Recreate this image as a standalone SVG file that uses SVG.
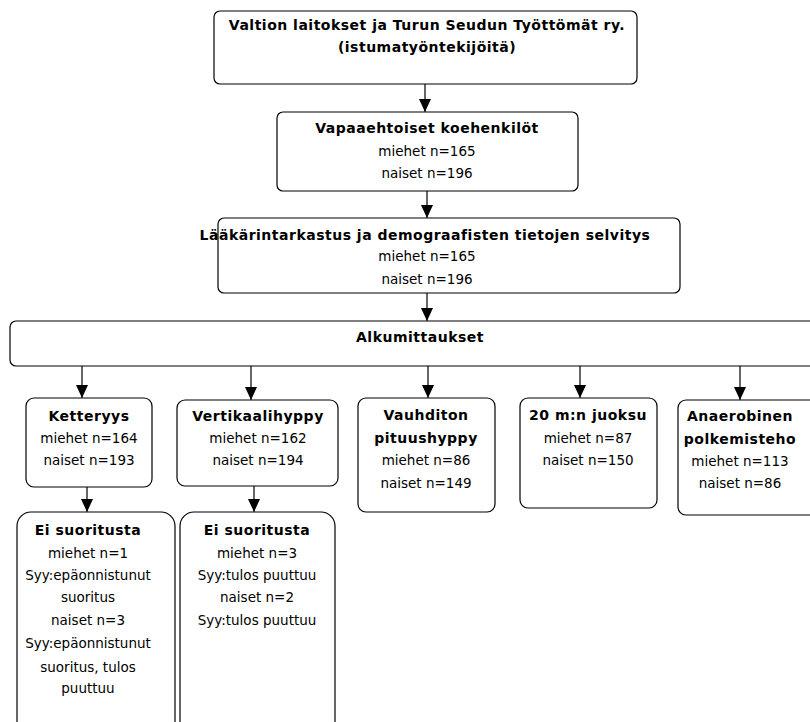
<svg xmlns="http://www.w3.org/2000/svg" width="810" height="722" viewBox="0 0 810 722">
<style>
rect.box{fill:#fff;stroke:#000;stroke-width:1.2}
text{font-family:"DejaVu Sans","Liberation Sans",sans-serif;font-size:13.5px;fill:#000;text-anchor:middle}
text.b{font-weight:bold;font-size:14px;letter-spacing:0.5px}
line.c{stroke:#000;stroke-width:1.2}
</style>
<defs>
<marker id="ah" markerWidth="12" markerHeight="13" refX="13" refY="6" orient="auto" markerUnits="userSpaceOnUse">
<path d="M0,0 L13,6 L0,12 Z" fill="#000"/>
</marker>
</defs>
<rect width="810" height="722" fill="#fff"/>
<g id="connectors">
<line class="c" x1="425" y1="84" x2="425" y2="112" marker-end="url(#ah)"/>
<line class="c" x1="427" y1="191" x2="427" y2="218" marker-end="url(#ah)"/>
<line class="c" x1="427" y1="293" x2="427" y2="321" marker-end="url(#ah)"/>
<line class="c" x1="82" y1="366" x2="82" y2="398" marker-end="url(#ah)"/>
<line class="c" x1="251" y1="366" x2="251" y2="400" marker-end="url(#ah)"/>
<line class="c" x1="428" y1="366" x2="428" y2="398" marker-end="url(#ah)"/>
<line class="c" x1="580" y1="366" x2="580" y2="398" marker-end="url(#ah)"/>
<line class="c" x1="740" y1="366" x2="740" y2="400" marker-end="url(#ah)"/>
<line class="c" x1="87" y1="487" x2="87" y2="512" marker-end="url(#ah)"/>
<line class="c" x1="254" y1="486" x2="254" y2="512" marker-end="url(#ah)"/>
</g>
<g id="n1">
<rect class="box" x="214" y="11" width="423" height="73" rx="6"/>
<text class="b" x="427" y="30">Valtion laitokset ja Turun Seudun Työttömät ry.</text>
<text class="b" x="427" y="52">(istumatyöntekijöitä)</text>
</g>
<g id="n2">
<rect class="box" x="277" y="112" width="301" height="79" rx="6"/>
<text class="b" x="427" y="133">Vapaaehtoiset koehenkilöt</text>
<text x="427" y="156">miehet n=165</text>
<text x="427" y="178">naiset n=196</text>
</g>
<g id="n3">
<rect class="box" x="218" y="218" width="462" height="75" rx="6"/>
<text class="b" x="425" y="240">Lääkärintarkastus ja demograafisten tietojen selvitys</text>
<text x="427" y="261">miehet n=165</text>
<text x="427" y="284">naiset n=196</text>
</g>
<g id="n4">
<rect class="box" x="10" y="321" width="810" height="45" rx="6"/>
<text class="b" x="420" y="342">Alkumittaukset</text>
</g>
<g id="n5">
<rect class="box" x="26" y="398" width="126" height="89" rx="8"/>
<text class="b" x="89" y="421">Ketteryys</text>
<text x="89" y="443">miehet n=164</text>
<text x="89" y="465">naiset n=193</text>
</g>
<g id="n6">
<rect class="box" x="177" y="400" width="161" height="86" rx="8"/>
<text class="b" x="258" y="421">Vertikaalihyppy</text>
<text x="258" y="443">miehet n=162</text>
<text x="258" y="465">naiset n=194</text>
</g>
<g id="n7">
<rect class="box" x="358" y="398" width="137" height="114" rx="8"/>
<text class="b" x="426" y="420">Vauhditon</text>
<text class="b" x="426" y="443">pituushyppy</text>
<text x="426" y="465">miehet n=86</text>
<text x="426" y="488">naiset n=149</text>
</g>
<g id="n8">
<rect class="box" x="520" y="398" width="137" height="110" rx="8"/>
<text class="b" x="588" y="420">20 m:n juoksu</text>
<text x="588" y="443">miehet n=87</text>
<text x="588" y="465">naiset n=150</text>
</g>
<g id="n9">
<rect class="box" x="678" y="400" width="140" height="115" rx="8"/>
<text class="b" x="740" y="421">Anaerobinen</text>
<text class="b" x="740" y="444">polkemisteho</text>
<text x="740" y="466">miehet n=113</text>
<text x="740" y="488">naiset n=86</text>
</g>
<g id="n10">
<rect class="box" x="17" y="512" width="158" height="230" rx="14"/>
<text class="b" x="88" y="535">Ei suoritusta</text>
<text x="88" y="558">miehet n=1</text>
<text x="88" y="580">Syy:epäonnistunut</text>
<text x="88" y="602">suoritus</text>
<text x="88" y="625">naiset n=3</text>
<text x="88" y="648">Syy:epäonnistunut</text>
<text x="88" y="672">suoritus, tulos</text>
<text x="88" y="693">puuttuu</text>
</g>
<g id="n11">
<rect class="box" x="180" y="512" width="155" height="230" rx="14"/>
<text class="b" x="257" y="535">Ei suoritusta</text>
<text x="257" y="558">miehet n=3</text>
<text x="257" y="580">Syy:tulos puuttuu</text>
<text x="257" y="602">naiset n=2</text>
<text x="257" y="625">Syy:tulos puuttuu</text>
</g>
</svg>
